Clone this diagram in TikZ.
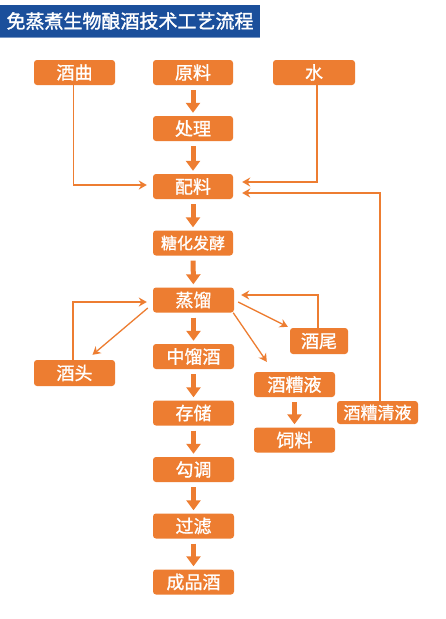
\documentclass[tikz,border=0pt]{standalone}
\usepackage{fontspec}
\newfontfamily\cjk{Noto Sans CJK SC}[FakeBold=1.1]
\newfontfamily\cjkt{Noto Sans CJK SC}[FakeBold=1.6]
\usetikzlibrary{arrows.meta,calc}
\definecolor{org}{RGB}{237,125,49}
\definecolor{ttl}{RGB}{27,79,155}
\begin{document}
\begin{tikzpicture}[x=1pt,y=-1pt,
  box/.style={fill=org,rounded corners=3pt,minimum width=81pt,minimum height=25pt,inner sep=0pt,text=white,font=\cjk\fontsize{18}{18}\selectfont},
  big/.style={draw=org,line width=5pt,-{Triangle[width=14pt,length=10pt]},shorten <=5pt,shorten >=3pt},
  thin/.style={draw=org,line width=1.3pt,-{Stealth[width=9pt,length=8pt]}}]
\useasboundingbox (0,0) rectangle (446,619);
\fill[white] (0,0) rectangle (446,619);
% title
\fill[ttl] (0,5) rectangle (260,37);
\draw[ttl!60,line width=1pt] (0,37.5) -- (260,37.5);
\node[text=white,font=\cjkt\fontsize{19}{19}\selectfont,inner sep=0pt] (title) at (130,21) {免蒸煮生物酿酒技术工艺流程};
% boxes
\node[box] (jiuqu) at (74.5,72.5) {酒曲};
\node[box,minimum width=80pt] (yuanliao) at (193,72.5) {原料};
\node[box,minimum width=82pt] (shui) at (314,72.5) {水};
\node[box,minimum width=80pt] (chuli) at (193,128.5) {处理};
\node[box,minimum width=80pt] (peiliao) at (193,186.5) {配料};
\node[box,minimum width=80pt,font=\cjk\fontsize{16}{16}\selectfont] (tanghua) at (193,243) {糖化发酵};
\node[box] (zhengliu) at (193.5,300) {蒸馏};
\node[box,minimum width=58pt,minimum height=26pt] (jiuwei) at (319,341) {酒尾};
\node[box] (zhongliu) at (193.5,356.5) {中馏酒};
\node[box,minimum height=26pt] (jiutou) at (74.5,373) {酒头};
\node[box] (jiuzaoye) at (294.5,384.5) {酒糟液};
\node[box] (cunchu) at (193.5,413) {存储};
\node[box,minimum height=23pt,font=\cjk\fontsize{17}{17}\selectfont] (qingye) at (377.5,412.5) {酒糟清液};
\node[box] (siliao) at (294.5,440) {饲料};
\node[box] (goutiao) at (193.5,469.5) {勾调};
\node[box] (guolv) at (193.5,526) {过滤};
\node[box] (chengpin) at (193.5,582) {成品酒};
% thick arrows
\draw[big] (yuanliao) -- (chuli);
\draw[big] (chuli) -- (peiliao);
\draw[big] (peiliao) -- (tanghua);
\draw[big] (tanghua) -- (zhengliu);
\draw[big] (zhengliu) -- (zhongliu);
\draw[big] (zhongliu) -- (cunchu);
\draw[big] (cunchu) -- (goutiao);
\draw[big] (goutiao) -- (guolv);
\draw[big] (guolv) -- (chengpin);
\draw[big] (jiuzaoye) -- (siliao);
% thin arrows
\draw[thin,shorten >=6pt] ($(jiuqu.south)+(-1,0)$) |- ($(peiliao.west)+(0,-1.5)$);
\draw[thin,shorten >=9pt] ($(shui.south)+(3,0)$) |- ($(peiliao.east)+(0,-4.5)$);
\draw[thin,shorten >=9pt] ($(qingye.north)+(2.5,0)$) |- ($(peiliao.east)+(0,6.5)$);
\draw[thin,shorten >=6pt] ($(jiutou.north)+(-1.5,0)$) |- ($(zhengliu.west)+(0,2)$);
\draw[thin] ($(zhengliu.west)+(-5,8)$) -- ($(jiutou.north)+(18,-5)$);
\draw[thin,shorten >=7pt] ($(jiuwei.north)+(-1,0)$) |- ($(zhengliu.east)+(0,-5)$);
\draw[thin] ($(zhengliu.east)+(4,2)$) -- ($(jiuwei.north west)+(-2,-1)$);
\draw[thin] ($(zhengliu.south east)+(-1,0)$) -- ($(jiuzaoye.north west)+(13,-10)$);
\end{tikzpicture}
\end{document}
